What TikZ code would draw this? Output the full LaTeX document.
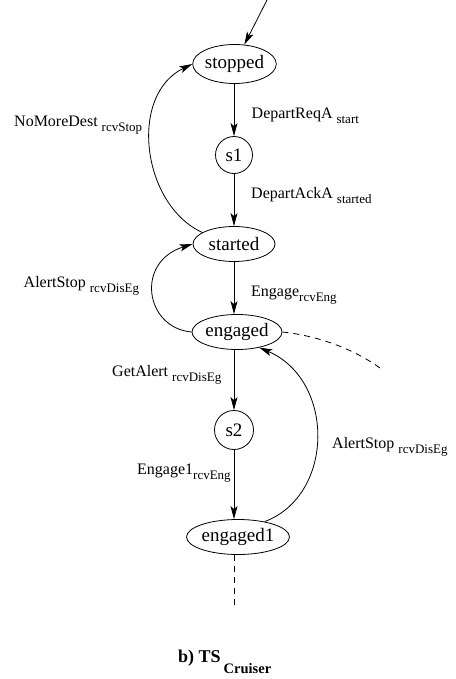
\documentclass[tikz,border=0pt]{standalone}
\usepackage{fontspec}
\setmainfont{Liberation Serif}
\usetikzlibrary{shapes.geometric,arrows.meta}

% label with a lowered subscript; #2 is the gap before the subscript
\newcommand{\trlabel}[3]{{\fontsize{16}{18}\selectfont #1}#2\raisebox{-5pt}{\fontsize{13}{14}\selectfont #3}}

\tikzset{
  state/.style={draw, ellipse, line width=0.8pt, inner sep=0pt,
    font=\fontsize{19}{21}\selectfont},
  smallstate/.style={draw, circle, line width=0.8pt, inner sep=0pt,
    minimum size=37pt, font=\fontsize{19}{21}\selectfont},
  trans/.style={line width=0.8pt, -{Stealth[length=13pt,width=7pt,inset=3pt]}},
  loose/.style={line width=0.8pt, dashed, dash pattern=on 6pt off 5pt},
  lbl/.style={anchor=base west, inner sep=0pt}
}

\begin{document}
\begin{tikzpicture}[x=1pt, y=-1pt]
\useasboundingbox (0,0) rectangle (455,679);

% states
\node[state, minimum width=82pt, minimum height=39pt] (stopped) at (234.5,64) {stopped};
\node[smallstate] (s1) at (234,155) {s1};
\node[state, minimum width=82pt, minimum height=35pt] (started) at (234,244) {started};
\node[state, minimum width=90pt, minimum height=35pt] (engaged) at (237,332) {engaged};
\node[smallstate, minimum size=39pt] (s2) at (234,430) {s2};
\node[state, minimum width=91pt, minimum height=35pt] (engaged1) at (238,537) {engaged1};

% initial transition and loose ends
\coordinate (init) at (267,0);
\coordinate (outR) at (380,368);
\coordinate (outB) at (234,605);
\draw[trans] (init) -- (stopped);
\draw[loose] (engaged.east) .. controls (320,336) and (355,350) .. (outR);
\draw[loose] (engaged1.south -| outB) -- (outB);

% main chain
\draw[trans] (stopped.south -| s1) -- (s1.north);
\draw[trans] (s1.south) -- (started.north -| s1);
\draw[trans] (started.south -| s1) -- (engaged.north -| s1);
\draw[trans] (engaged.south -| s1) -- (s2.north);
\draw[trans] (s2.south) -- (engaged1.north -| s2);

% back edges
\draw[trans] (started.160) .. controls (142,205) and (128,95) .. (stopped.west);
\draw[trans] (engaged.west) .. controls (145,328) and (135,262) .. (started.west);
\draw[trans] (engaged1.30) .. controls (335,495) and (335,380) .. (engaged.-35);

% labels
\node[lbl] (l1) at (251.5,118.5) {\trlabel{DepartReqA}{\hspace{4pt}}{start}};
\node[lbl] (l2) at (251,198) {\trlabel{DepartAckA}{\hspace{4pt}}{started}};
\node[lbl] (l3) at (14,127) {\trlabel{NoMoreDest}{\hspace{4pt}}{rcvStop}};
\node[lbl] (l4) at (23.5,287) {\trlabel{AlertStop}{\hspace{4pt}}{rcvDisEg}};
\node[lbl] (l5) at (251,296) {\trlabel{Engage}{}{rcvEng}};
\node[lbl] (l6) at (112,376) {\trlabel{GetAlert}{\hspace{4pt}}{rcvDisEg}};
\node[lbl] (l7) at (137,474) {\trlabel{Engage1}{}{rcvEng}};
\node[lbl] (l8) at (332,448) {\trlabel{AlertStop}{\hspace{4pt}}{rcvDisEg}};

% caption
\node[lbl] (cap) at (178,662) {\bfseries{\fontsize{18}{20}\selectfont b) TS}\hspace{3pt}\raisebox{-11pt}{\fontsize{14.5}{16}\selectfont Cruiser}};
\end{tikzpicture}
\end{document}
